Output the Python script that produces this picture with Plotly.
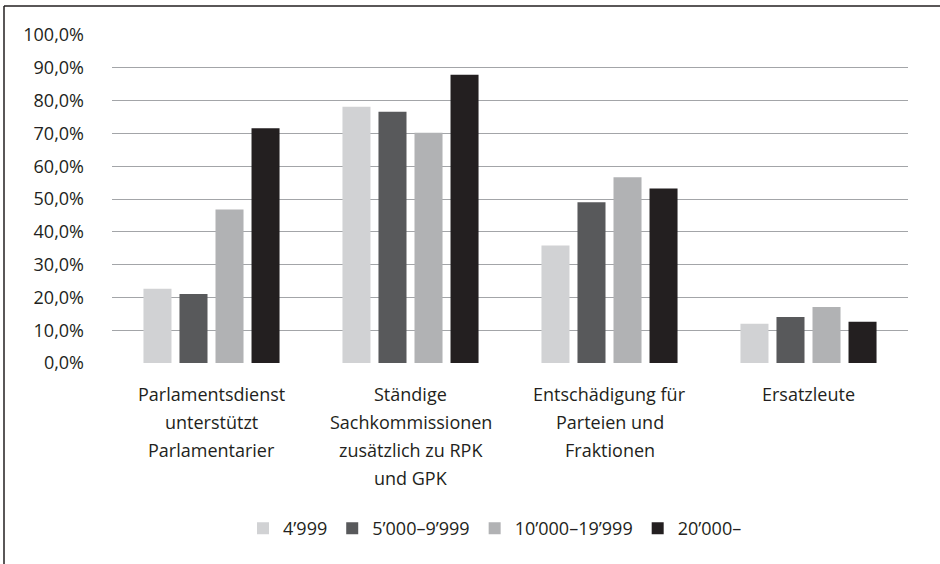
import plotly.graph_objects as go

# ---- data ----
categories = [
    "Parlamentsdienst unterstützt Parlamentarier",
    "Ständige Sachkommissionen zusätzlich zu RPK und GPK",
    "Entschädigung für Parteien und Fraktionen",
    "Ersatzleute",
]
category_lines = [
    ["Parlamentsdienst", "unterstützt", "Parlamentarier"],
    ["Ständige", "Sachkommissionen", "zusätzlich zu RPK", "und GPK"],
    ["Entschädigung für", "Parteien und", "Fraktionen"],
    ["Ersatzleute"],
]
series_names = ["4’999", "5’000–9’999", "10’000–19’999", "20’000–"]
values_4999 = [22.6, 78.1, 35.8, 12.0]
values_5000_9999 = [21.0, 76.6, 49.0, 14.0]
values_10000_19999 = [46.8, 70.2, 56.6, 17.1]
values_20000 = [71.6, 87.9, 53.2, 12.6]
y_ticks = [0, 10, 20, 30, 40, 50, 60, 70, 80, 90, 100]
y_tick_labels = [f"{v:.1f}%".replace(".", ",") for v in y_ticks]

series_values = [values_4999, values_5000_9999, values_10000_19999, values_20000]
colors = ["#d1d2d4", "#58595b", "#b1b2b4", "#231f20"]

W, H = 940, 564
L, R, T, B = 112, 32, 35, 200.7
pw, ph = W - L - R, H - T - B

def px_x(x):
    return (x - L) / pw

def px_y(y):
    return (H - B - y) / ph

font_family = "'Open Sans', Roboto, Arial, sans-serif"
fsize = 18
text_color = "#231f20"

fig = go.Figure()
for name, vals, col in zip(series_names, series_values, colors):
    fig.add_trace(go.Bar(x=categories, y=vals, name=name, marker_color=col,
                         marker_line_width=0))

annotations = []
for cat, lines in zip(categories, category_lines):
    for i, line in enumerate(lines):
        annotations.append(dict(
            x=cat, xref="x", y=px_y(394 + 28.3 * i), yref="paper",
            text=line, showarrow=False, xanchor="center", yanchor="middle",
            font=dict(family=font_family, size=fsize, color=text_color)))

shapes = [
    dict(type="line", xref="paper", yref="paper",
         x0=px_x(4), x1=px_x(945), y0=px_y(6), y1=px_y(6),
         line=dict(color="#231f20", width=1.5)),
    dict(type="line", xref="paper", yref="paper",
         x0=px_x(4), x1=px_x(4), y0=px_y(6), y1=px_y(570),
         line=dict(color="#231f20", width=1.5)),
]

fig.update_layout(
    width=W, height=H,
    margin=dict(l=L, r=R, t=T, b=B, autoexpand=False),
    paper_bgcolor="white", plot_bgcolor="white",
    barmode="group", bargap=0.276, bargroupgap=0.222,
    font=dict(family=font_family, size=fsize, color=text_color),
    xaxis=dict(showticklabels=False, showgrid=False, zeroline=False,
               showline=False, ticks=""),
    yaxis=dict(range=[0, 100], tickmode="array", tickvals=y_ticks,
               ticktext=y_tick_labels, showgrid=True, gridcolor="#a3a5a8",
               gridwidth=1.3, zeroline=False, showline=False,
               ticklabelstandoff=27,
               tickfont=dict(family=font_family, size=fsize, color=text_color)),
    legend=dict(orientation="h", x=px_x(243), xanchor="left",
                y=px_y(529), yanchor="middle",
                font=dict(family=font_family, size=fsize, color=text_color),
                traceorder="normal"),
    annotations=annotations,
    shapes=shapes,
)

fig.write_html("out.html", config={"displayModeBar": False},
               post_script="document.body.style.margin='0px';")
